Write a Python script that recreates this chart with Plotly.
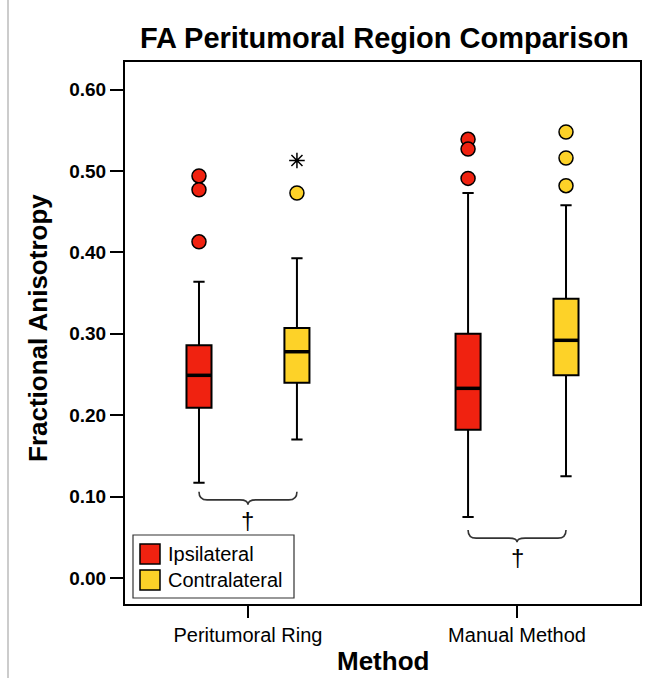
import plotly.graph_objects as go

methods = ["Peritumoral Ring", "Manual Method"]
series = ["Ipsilateral", "Contralateral"]
colors = {"Ipsilateral": "#F02210", "Contralateral": "#FDD228"}
yticks = [0.0, 0.1, 0.2, 0.3, 0.4, 0.5, 0.6]

# box statistics per series, one value per method
lowerfence = {"Ipsilateral": [0.117, 0.075], "Contralateral": [0.170, 0.125]}
q1 = {"Ipsilateral": [0.209, 0.182], "Contralateral": [0.240, 0.249]}
median = {"Ipsilateral": [0.249, 0.233], "Contralateral": [0.278, 0.292]}
q3 = {"Ipsilateral": [0.286, 0.300], "Contralateral": [0.307, 0.343]}
upperfence = {"Ipsilateral": [0.364, 0.473], "Contralateral": [0.393, 0.458]}
outliers = {
    "Ipsilateral": [[0.494, 0.477, 0.413], [0.539, 0.527, 0.491]],
    "Contralateral": [[0.473], [0.548, 0.516, 0.482]],
}
extremes = {"Ipsilateral": [[], []], "Contralateral": [[0.513], []]}

# brace levels (top, line, tip) and dagger per method
brace_y = [(0.106, 0.096, 0.090, 0.071), (0.059, 0.049, 0.044, 0.025)]

offset = 0.182
bw = 0.093
off = {"Ipsilateral": -offset, "Contralateral": offset}
FONT = "Liberation Sans, Arial, sans-serif"

# pixel helpers for plot area (l=125, t=62, w=515, h=542)
def px(x):
    return (x - 125) / 515.0
def py(y):
    return (604 - y) / 542.0

fig = go.Figure()
for s in series:
    xs = [i + off[s] for i in range(len(methods))]
    fig.add_trace(go.Box(
        x=xs, q1=q1[s], median=median[s], q3=q3[s],
        lowerfence=lowerfence[s], upperfence=upperfence[s],
        width=bw, whiskerwidth=0.45,
        fillcolor=colors[s], line=dict(color="black", width=2),
        name=s, boxpoints=False, hoverinfo="skip", showlegend=False,
    ))
    mx, my = [], []
    for i, m in enumerate(median[s]):
        c = i + off[s]
        mx += [c - bw / 2, c + bw / 2, None]
        my += [m, m, None]
    fig.add_trace(go.Scatter(x=mx, y=my, mode="lines", showlegend=False,
                             line=dict(color="black", width=3.5), hoverinfo="skip"))
for s in series:
    ox, oy = [], []
    for i, vals in enumerate(outliers[s]):
        for v in vals:
            ox.append(i + off[s]); oy.append(v)
    fig.add_trace(go.Scatter(
        x=ox, y=oy, mode="markers", showlegend=False,
        marker=dict(size=14, color=colors[s], line=dict(color="black", width=1.5)),
        hoverinfo="skip",
    ))
    ex, ey = [], []
    for i, vals in enumerate(extremes[s]):
        for v in vals:
            ex.append(i + off[s]); ey.append(v)
    if ex:
        fig.add_trace(go.Scatter(
            x=ex, y=ey, mode="markers", showlegend=False,
            marker=dict(symbol="asterisk-open", size=13, color="black",
                        line=dict(color="black", width=1.5)),
            hoverinfo="skip",
        ))

shapes = []
annotations = []
for i, (yt, yl, ytip, yd) in enumerate(brace_y):
    x0 = i + off["Ipsilateral"]
    x1 = i + off["Contralateral"]
    xm = (x0 + x1) / 2
    r = 0.03
    path = (f"M {x0},{yt} Q {x0},{yl} {x0 + r},{yl} L {xm - r},{yl} "
            f"Q {xm},{yl} {xm},{ytip} Q {xm},{yl} {xm + r},{yl} "
            f"L {x1 - r},{yl} Q {x1},{yl} {x1},{yt}")
    shapes.append(dict(type="path", path=path, xref="x", yref="y",
                       line=dict(color="#333", width=1.6)))
    annotations.append(dict(x=xm, y=yd, text="†", showarrow=False, xref="x", yref="y",
                            font=dict(size=24, color="black", family=FONT)))

# custom legend
shapes.append(dict(type="rect", xref="paper", yref="paper",
                   x0=px(133), x1=px(294), y0=py(598), y1=py(535),
                   line=dict(color="#333", width=1.2), fillcolor="white", layer="above"))
for k, s in enumerate(series):
    cy = 554 + 26 * k
    shapes.append(dict(type="rect", xref="paper", yref="paper",
                       x0=px(140), x1=px(160), y0=py(cy + 10), y1=py(cy - 10),
                       line=dict(color="black", width=1.5), fillcolor=colors[s],
                       layer="above"))
    annotations.append(dict(x=px(166), y=py(cy), xref="paper", yref="paper",
                            xanchor="left", yanchor="middle", text=s, showarrow=False,
                            font=dict(size=20, color="black", family=FONT)))

# titles
annotations.append(dict(x=px(384), y=py(38), xref="paper", yref="paper",
                        text="<b>FA Peritumoral Region Comparison</b>", showarrow=False,
                        xanchor="center", yanchor="middle",
                        font=dict(size=29, color="black", family=FONT)))
annotations.append(dict(x=px(383), y=py(661), xref="paper", yref="paper",
                        text="<b>Method</b>", showarrow=False,
                        xanchor="center", yanchor="middle",
                        font=dict(size=26, color="black", family=FONT)))
annotations.append(dict(x=px(38), y=py(328), xref="paper", yref="paper",
                        text="<b>Fractional Anisotropy</b>", showarrow=False,
                        textangle=-90, xanchor="center", yanchor="middle",
                        font=dict(size=26, color="black", family=FONT)))

shapes.append(dict(type="line", xref="paper", yref="paper", x0=px(8), x1=px(8),
                   y0=-0.2, y1=1.2, line=dict(color="#999", width=1)))

fig.update_layout(
    width=651, height=678,
    margin=dict(l=125, r=11, t=62, b=74),
    paper_bgcolor="white", plot_bgcolor="white",
    font=dict(family=FONT, color="black"),
    showlegend=False,
    shapes=shapes, annotations=annotations,
)
fig.update_xaxes(
    range=[-0.457, 1.457], tickvals=list(range(len(methods))), ticktext=methods,
    showline=True, linecolor="black", linewidth=2, mirror=True,
    ticks="outside", ticklen=12, tickwidth=2, tickcolor="black",
    showgrid=False, zeroline=False, tickfont=dict(size=20), automargin=False,
)
fig.update_yaxes(
    range=[-0.032, 0.634], tickvals=yticks,
    ticktext=[f"<b>{v:.2f}</b>" for v in yticks],
    showline=True, linecolor="black", linewidth=2, mirror=True,
    ticks="outside", ticklen=13, tickwidth=2, tickcolor="black",
    showgrid=False, zeroline=False, tickfont=dict(size=19), automargin=False,
)
fig.write_html("out.html")
